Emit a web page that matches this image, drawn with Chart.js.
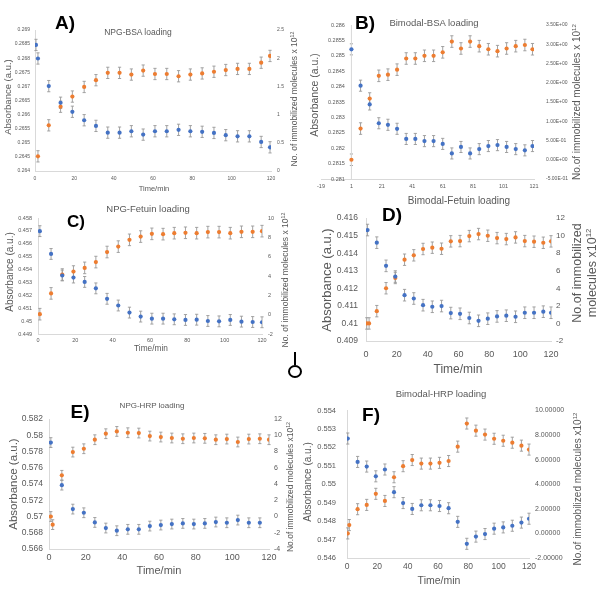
<!DOCTYPE html>
<html>
<head>
<meta charset="utf-8">
<script src="https://cdn.jsdelivr.net/npm/chart.js@4.4.0/dist/chart.umd.min.js"></script>
<style>
    html, body { margin: 0; padding: 0; background: #fff; }
    #fig { position: relative; width: 601px; height: 598px; overflow: hidden; font-family: "Liberation Sans", Arial, sans-serif; }
    #fig canvas { position: absolute; }
    .t { position: absolute; white-space: nowrap; color: #595959; line-height: 1.2; text-align: center; }
    .t sup { font-size: 0.62em; line-height: 0; vertical-align: 0.6em; }
    .lt { color: #000; font-weight: bold; }
    .ring { position: absolute; border: 2px solid #000; border-radius: 50%; box-sizing: border-box; }
    .stick { position: absolute; width: 1.5px; background: #000; }
</style>
</head>
<body>
<div id="fig"></div>
<script>
// ---- data ----
const xTicks = [0, 20, 40, 60, 80, 100, 120];
const xTicksB = [-19, 1, 21, 41, 61, 81, 101, 121];

// A) NPG-BSA
const timeA_abs = [0.5, 1.5, 7, 13, 19, 25, 31, 37, 43, 49, 55, 61, 67, 73, 79, 85, 91, 97, 103, 109, 115, 119.5];
const absA = [0.26847, 0.26799, 0.26701, 0.26642, 0.2661, 0.2658, 0.2656, 0.26536, 0.26536, 0.26541, 0.26529, 0.26541, 0.26541, 0.26546, 0.26541, 0.26539, 0.26535, 0.26527, 0.26523, 0.26523, 0.26503, 0.26484];
const timeA_mol = [1.5, 7, 13, 19, 25, 31, 37, 43, 49, 55, 61, 67, 73, 79, 85, 91, 97, 103, 109, 115, 119.5];
const molA = [0.26, 0.81, 1.14, 1.32, 1.49, 1.61, 1.74, 1.74, 1.71, 1.78, 1.72, 1.72, 1.68, 1.71, 1.73, 1.76, 1.79, 1.81, 1.81, 1.92, 2.04];
const absTicksA = [0.264, 0.2645, 0.265, 0.2655, 0.266, 0.2665, 0.267, 0.2675, 0.268, 0.2685, 0.269];
const molTicksA = [0, 0.5, 1, 1.5, 2, 2.5];
const errAbsA = 0.0002, errMolA = 0.1;

// B) Bimodal-BSA
const timeB = [1, 7, 13, 19, 25, 31, 37, 43, 49, 55, 61, 67, 73, 79, 85, 91, 97, 103, 109, 115, 120];
const absB = [0.28521, 0.28403, 0.28342, 0.28281, 0.28276, 0.28263, 0.2823, 0.2823, 0.28223, 0.28223, 0.28214, 0.28183, 0.28204, 0.28183, 0.28197, 0.28207, 0.2821, 0.28204, 0.28197, 0.28193, 0.28207];
const molB = [0, 0.81, 1.59, 2.18, 2.21, 2.34, 2.63, 2.63, 2.7, 2.7, 2.79, 3.07, 2.89, 3.07, 2.95, 2.87, 2.82, 2.89, 2.95, 2.98, 2.87];
const absTicksB = [0.281, 0.2815, 0.282, 0.2825, 0.283, 0.2835, 0.284, 0.2845, 0.285, 0.2855, 0.286];
const molTicksB = [-0.5, 0, 0.5, 1, 1.5, 2, 2.5, 3, 3.5];
const errAbsB = 0.00018, errMolB = 0.15;

// C) NPG-Fetuin
const timeC = [1, 7, 13, 19, 25, 31, 37, 43, 49, 55, 61, 67, 73, 79, 85, 91, 97, 103, 109, 115, 120];
const absC = [0.45698, 0.45521, 0.45354, 0.45338, 0.45304, 0.45254, 0.45173, 0.45121, 0.45066, 0.45035, 0.45019, 0.45019, 0.45014, 0.45009, 0.45011, 0.45001, 0.44998, 0.45009, 0.44996, 0.44993, 0.44991];
const molC = [0.05, 2.2, 4.15, 4.46, 4.84, 5.44, 6.48, 7.04, 7.74, 8.08, 8.36, 8.33, 8.43, 8.47, 8.43, 8.54, 8.54, 8.43, 8.57, 8.57, 8.64];
const absTicksC = [0.449, 0.45, 0.451, 0.452, 0.453, 0.454, 0.455, 0.456, 0.457, 0.458];
const molTicksC = [-2, 0, 2, 4, 6, 8, 10];
const errAbsC = 0.00042, errMolC = 0.6;

// D) Bimodal-Fetuin
const timeD_abs = [1, 7, 13, 19, 25, 31, 37, 43, 49, 55, 61, 67, 73, 79, 85, 91, 97, 103, 109, 115, 120];
const absD = [0.41532, 0.4146, 0.41328, 0.41267, 0.41161, 0.41142, 0.41104, 0.41095, 0.41099, 0.41059, 0.41055, 0.41031, 0.41015, 0.41027, 0.4104, 0.41044, 0.41038, 0.41061, 0.41061, 0.41067, 0.41061];
const timeD_mol = [0.5, 2, 7, 13, 19, 25, 31, 37, 43, 49, 55, 61, 67, 73, 79, 85, 91, 97, 103, 109, 115, 120];
const molD = [0, 0, 1.4, 4.01, 5.18, 7.26, 7.76, 8.48, 8.63, 8.51, 9.35, 9.38, 9.95, 10.18, 9.99, 9.72, 9.61, 9.8, 9.38, 9.31, 9.19, 9.35];
const absTicksD = [0.409, 0.41, 0.411, 0.412, 0.413, 0.414, 0.415, 0.416];
const molTicksD = [-2, 0, 2, 4, 6, 8, 10, 12];
const errAbsD = 0.00033, errMolD = 0.65;

// E) NPG-HRP
const timeE_abs = [1, 7, 13, 19, 25, 31, 37, 43, 49, 55, 61, 67, 73, 79, 85, 91, 97, 103, 109, 115];
const absE = [0.5791, 0.57386, 0.57091, 0.57046, 0.56927, 0.56858, 0.56825, 0.56842, 0.56842, 0.56882, 0.56895, 0.56907, 0.56915, 0.56907, 0.56915, 0.56932, 0.56923, 0.56956, 0.56923, 0.56923];
const timeE_mol = [1, 2, 7, 13, 19, 25, 31, 37, 43, 49, 55, 61, 67, 73, 79, 85, 91, 97, 103, 109, 115, 120];
const molE = [0, -1, 5.07, 7.93, 8.34, 9.45, 10.19, 10.47, 10.31, 10.27, 9.9, 9.78, 9.66, 9.57, 9.66, 9.62, 9.45, 9.53, 9.17, 9.53, 9.57, 9.45];
const absTicksE = [0.566, 0.568, 0.57, 0.572, 0.574, 0.576, 0.578, 0.58, 0.582];
const molTicksE = [-4, -2, 0, 2, 4, 6, 8, 10, 12];
const errAbsE = 0.0006, errMolE = 0.6;

// F) Bimodal-HRP
const timeF_abs = [0.5, 7, 13, 19, 25, 31, 37, 43, 49, 55, 61, 67, 73, 79, 85, 91, 97, 103, 109, 115, 120];
const absF = [0.55248, 0.55121, 0.55096, 0.55043, 0.5508, 0.54957, 0.54898, 0.54866, 0.54886, 0.54886, 0.54882, 0.5487, 0.54796, 0.54677, 0.54716, 0.5473, 0.54759, 0.54766, 0.54775, 0.54792, 0.54813];
const timeF_mol = [0.5, 1.5, 7, 13, 19, 25, 31, 37, 43, 49, 55, 61, 67, 73, 79, 85, 91, 97, 103, 109, 115, 120];
const molF = [0, 0.68, 1.97, 2.32, 3.22, 2.64, 4.57, 5.47, 5.97, 5.68, 5.68, 5.74, 5.89, 7.06, 8.94, 8.36, 8.04, 7.7, 7.54, 7.38, 7.14, 6.82];
const absTicksF = [0.546, 0.547, 0.548, 0.549, 0.55, 0.551, 0.552, 0.553, 0.554];
const molTicksF = [-2, 0, 2, 4, 6, 8, 10];
const errAbsF = 0.0003, errMolF = 0.45;

// ---- styling ----
const BLUE = '#4472c4', ORANGE = '#ed7d31', TICK = '#595959', ERR = '#999999', AXIS = '#d9d9d9';
const FONT = '"Liberation Sans", Arial, sans-serif';
const fig = document.getElementById('fig');

// number formats used by the tick labels
const plain = v => String(+v.toFixed(6));
const fixed5 = v => v.toFixed(5);
function sci(v) {
    const [m, e] = v.toExponential(2).split('e');
    const sign = e[0] === '-' ? '-' : '+';
    return m + 'E' + sign + e.replace(/[+-]/, '').padStart(2, '0');
}

// error bars drawn from each dataset's own y scale
const errorBars = {
    id: 'errorBars',
    beforeDatasetsDraw(chart) {
        const ctx = chart.ctx;
        ctx.save();
        ctx.strokeStyle = ERR;
        ctx.lineWidth = 0.9;
        chart.data.datasets.forEach((ds, i) => {
            const sc = chart.scales[ds.yAxisID];
            chart.getDatasetMeta(i).data.forEach((pt, j) => {
                const v = ds.data[j].y;
                const top = sc.getPixelForValue(v + ds.err);
                const bot = sc.getPixelForValue(v - ds.err);
                ctx.beginPath();
                ctx.moveTo(pt.x, top); ctx.lineTo(pt.x, bot);
                ctx.moveTo(pt.x - 1.6, top); ctx.lineTo(pt.x + 1.6, top);
                ctx.moveTo(pt.x - 1.6, bot); ctx.lineTo(pt.x + 1.6, bot);
                ctx.stroke();
            });
        });
        ctx.restore();
    }
};

// vertical axis line crossing at a given x value (panel B)
const crossLine = {
    id: 'crossLine',
    beforeDatasetsDraw(chart, args, opts) {
        if (opts.at === undefined) return;
        const x = chart.scales.x.getPixelForValue(opts.at);
        const ctx = chart.ctx;
        ctx.save();
        ctx.strokeStyle = AXIS;
        ctx.lineWidth = 1;
        ctx.beginPath();
        ctx.moveTo(x, chart.chartArea.top);
        ctx.lineTo(x, chart.chartArea.bottom);
        ctx.stroke();
        ctx.restore();
    }
};
Chart.register(errorBars, crossLine);

function points(xs, ys) {
    return xs.map((x, i) => ({ x: x, y: ys[i] }));
}

function yAxis(pos, ticks, fmt, size, pad, width, extra) {
    return Object.assign({
        type: 'linear',
        position: pos,
        min: ticks[0],
        max: ticks[ticks.length - 1],
        grid: { display: false, drawTicks: false },
        border: { display: pos === 'left', color: AXIS },
        ticks: { color: TICK, font: { family: FONT, size: size }, padding: pad, autoSkip: false, callback: v => fmt(v) },
        afterBuildTicks: s => { s.ticks = ticks.map(v => ({ value: v })); },
        afterFit: s => { s.width = width; }
    }, extra || {});
}

// one panel = one canvas; area is the plot rectangle in page pixels
function panel(p) {
    const [L, T, W, H] = p.box;
    const [x0, y0, x1, y1] = p.area;
    const cv = document.createElement('canvas');
    cv.width = W; cv.height = H;
    cv.style.left = L + 'px'; cv.style.top = T + 'px';
    fig.appendChild(cv);

    const leftExtra = p.mirror ? { border: { display: false }, ticks: { color: TICK, font: { family: FONT, size: p.font[0] }, padding: p.pad[0], mirror: true, crossAlign: 'far', callback: v => plain(v) } } : null;

    new Chart(cv, {
        type: 'scatter',
        data: {
            datasets: p.series.map(s => ({
                data: points(s.x, s.y),
                yAxisID: s.axis,
                err: s.err,
                backgroundColor: s.color,
                borderWidth: 0,
                pointRadius: 2.1,
                pointHoverRadius: 2.1
            }))
        },
        options: {
            responsive: false,
            animation: false,
            events: [],
            layout: { padding: { top: y0 - T, left: 0, right: 0, bottom: 0 } },
            plugins: { legend: { display: false }, tooltip: { enabled: false }, crossLine: { at: p.crossAt } },
            scales: {
                x: {
                    type: 'linear',
                    min: p.xt[0],
                    max: p.xt[p.xt.length - 1],
                    grid: { display: false, drawTicks: false },
                    border: { display: true, color: AXIS },
                    ticks: { color: TICK, font: { family: FONT, size: p.font[2] }, padding: p.pad[2], maxRotation: 0, autoSkip: false },
                    afterBuildTicks: s => { s.ticks = p.xt.map(v => ({ value: v })); },
                    afterFit: s => { s.height = T + H - y1; }
                },
                yL: yAxis('left', p.lt, plain, p.font[0], p.pad[0], x0 - L, leftExtra),
                yR: yAxis('right', p.rt, p.rfmt, p.font[1], p.pad[1], L + W - x1)
            }
        }
    });
}

function addText(html, cx, cy, size, opt) {
    opt = opt || {};
    const d = document.createElement('div');
    d.className = 't' + (opt.bold ? ' lt' : '');
    d.innerHTML = html;
    d.style.left = cx + 'px';
    d.style.top = cy + 'px';
    d.style.fontSize = size + 'px';
    d.style.transform = 'translate(-50%,-50%)' + (opt.rot ? ' rotate(-90deg)' : '');
    fig.appendChild(d);
}

// ---- panels ----
panel({ box: [0, 0, 300, 195], area: [35, 30, 271, 171], xt: xTicks, lt: absTicksA, rt: molTicksA, rfmt: plain,
    font: [5, 5, 5], pad: [5, 6, 5],
    series: [{ x: timeA_abs, y: absA, axis: 'yL', color: BLUE, err: errAbsA },
             { x: timeA_mol, y: molA, axis: 'yR', color: ORANGE, err: errMolA }] });

panel({ box: [300, 0, 301, 195], area: [321, 25, 534, 179], xt: xTicksB, lt: absTicksB, rt: molTicksB, rfmt: sci,
    font: [5.5, 5, 5.5], pad: [7, 12, 4], mirror: true, crossAt: 1,
    series: [{ x: timeB, y: absB, axis: 'yL', color: BLUE, err: errAbsB },
             { x: timeB, y: molB, axis: 'yR', color: ORANGE, err: errMolB }] });

panel({ box: [0, 195, 300, 165], area: [38, 218, 262, 334], xt: xTicks, lt: absTicksC, rt: molTicksC, rfmt: plain,
    font: [5.5, 5.5, 5.5], pad: [6, 6, 3],
    series: [{ x: timeC, y: absC, axis: 'yL', color: BLUE, err: errAbsC },
             { x: timeC, y: molC, axis: 'yR', color: ORANGE, err: errMolC }] });

panel({ box: [300, 205, 301, 180], area: [366, 217, 551, 341], xt: xTicks, lt: absTicksD, rt: molTicksD, rfmt: plain,
    font: [8.5, 8, 9], pad: [8, 5, 8],
    series: [{ x: timeD_abs, y: absD, axis: 'yL', color: BLUE, err: errAbsD },
             { x: timeD_mol, y: molD, axis: 'yR', color: ORANGE, err: errMolD }] });

panel({ box: [0, 395, 300, 190], area: [49, 419, 269, 549], xt: xTicks, lt: absTicksE, rt: molTicksE, rfmt: plain,
    font: [8.5, 7, 9], pad: [6, 5, 3],
    series: [{ x: timeE_abs, y: absE, axis: 'yL', color: BLUE, err: errAbsE },
             { x: timeE_mol, y: molE, axis: 'yR', color: ORANGE, err: errMolE }] });

panel({ box: [300, 395, 301, 200], area: [347, 407, 529, 558], xt: xTicks, lt: absTicksF, rt: molTicksF, rfmt: fixed5,
    font: [7.5, 7, 8.5], pad: [11, 6, 4],
    series: [{ x: timeF_abs, y: absF, axis: 'yL', color: BLUE, err: errAbsF },
             { x: timeF_mol, y: molF, axis: 'yR', color: ORANGE, err: errMolF }] });

// ---- titles, axis titles, panel letters ----
addText('NPG-BSA loading', 138, 32, 8.5);
addText('Bimodal-BSA loading', 434, 23, 9.5);
addText('NPG-Fetuin loading', 148, 209, 9.5);
addText('Bimodal-Fetuin loading', 459, 201, 10);
addText('NPG-HRP loading', 152, 406, 8);
addText('Bimodal-HRP loading', 441, 394, 9.5);

addText('Time/min', 154, 188, 7.5);
addText('Time/min', 151, 349, 8.3);
addText('Time/min', 458, 369, 12);
addText('Time/min', 159, 571, 11);
addText('Time/min', 439, 580, 10.5);

addText('Absorbance (a.u.)', 8, 97, 9.5, { rot: true });
addText('Absorbance (a.u.)', 314, 95, 10.5, { rot: true });
addText('Absorbance (a.u.)', 10, 272, 10, { rot: true });
addText('Absorbance (a.u.)', 327, 280, 13, { rot: true });
addText('Absorbance (a.u.)', 14, 484, 11.5, { rot: true });
addText('Absorbance (a.u.)', 308, 482, 10, { rot: true });

addText('No. of immobilized molecules x 10<sup>12</sup>', 294, 99, 8.5, { rot: true });
addText('No.of immobilized molecules x 10<sup>12</sup>', 577, 102, 10, { rot: true });
addText('No. of immobilized molecules x 10<sup>12</sup>', 285, 280, 8.5, { rot: true });
addText('No.of immobilized<br>molecules x10<sup>12</sup>', 585, 273, 12.5, { rot: true });
addText('No.of immobilized molecules x10<sup>12</sup>', 290, 487, 8.5, { rot: true });
addText('No.of immobilized molecules x10<sup>12</sup>', 578, 489, 10, { rot: true });

addText('A)', 65, 23, 19, { bold: true });
addText('B)', 365, 23, 19, { bold: true });
addText('C)', 76, 222, 17, { bold: true });
addText('D)', 392, 215, 19, { bold: true });
addText('E)', 80, 412, 19, { bold: true });
addText('F)', 371, 415, 19, { bold: true });

// stray ring mark between panels C and D
const stick = document.createElement('div');
stick.className = 'stick';
stick.style.left = '294px'; stick.style.top = '352px'; stick.style.height = '13px';
fig.appendChild(stick);
const ring = document.createElement('div');
ring.className = 'ring';
ring.style.left = '288px'; ring.style.top = '365px'; ring.style.width = '14px'; ring.style.height = '13px';
fig.appendChild(ring);
</script>
</body>
</html>
